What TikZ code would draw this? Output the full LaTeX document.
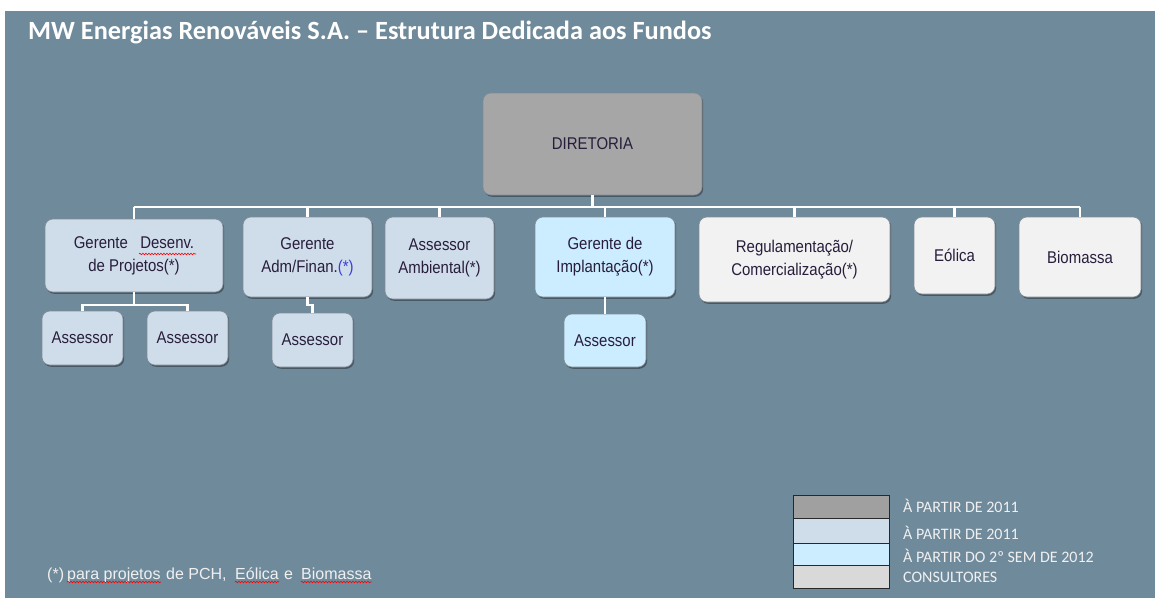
\documentclass[tikz,border=0pt]{standalone}
\usepackage{fontspec}
\setmainfont{Liberation Sans}
\newfontfamily\boxfont[FakeStretch=0.88]{Liberation Sans}
\newfontfamily\calib{Carlito}
\usetikzlibrary{shadows,decorations.pathmorphing}
\definecolor{bgslate}{RGB}{111,138,155}
\definecolor{dirgray}{RGB}{166,166,166}
\definecolor{gerblue}{RGB}{207,220,234}
\definecolor{impcyan}{RGB}{204,236,255}
\definecolor{conslt}{RGB}{242,242,242}
\definecolor{leggray}{RGB}{160,160,160}
\definecolor{legcons}{RGB}{217,217,217}
\definecolor{boxtext}{RGB}{40,30,60}
\definecolor{ast}{RGB}{60,60,220}
\definecolor{lighttext}{RGB}{240,240,240}
\begin{document}
\begin{tikzpicture}[x=1pt,y=-1pt,
  orgbox/.style={draw={rgb,255:red,130;green,140;blue,150}, line width=0.6pt, rounded corners=8pt,
    align=center, inner sep=2pt, text=boxtext,
    font=\boxfont\fontsize{17}{23}\selectfont,
    drop shadow={shadow xshift=1.2pt, shadow yshift=-1.8pt, fill=black, opacity=0.35}},
  conn/.style={draw=white, line width=2.2pt},
  legbox/.style={draw={rgb,255:red,40;green,40;blue,40}, line width=0.8pt, inner sep=0pt},
  legtext/.style={anchor=west, text=lighttext, font=\calib\fontsize{16}{18}\selectfont, inner sep=0pt},
  footword/.style={anchor=base west, inner sep=0pt, text=lighttext, font=\fontsize{16}{18}\selectfont},
  squig/.style={draw=red, line width=0.6pt, decorate, decoration={snake, segment length=3pt, amplitude=0.8pt}}
]
\useasboundingbox (0,0) rectangle (1155,598);
\fill[white] (0,0) rectangle (1155,598);
\fill[bgslate] (5,11) rectangle (1155,598);

% title
\node[anchor=west, text=white, inner sep=0pt, font=\calib\bfseries\fontsize{26.3}{30}\selectfont] (title) at (28,32) {MW Energias Renováveis S.A. – Estrutura Dedicada aos Fundos};

% boxes
\node[orgbox, fill=dirgray, minimum width=219, minimum height=102] (dir) at (592.5,144) {DIRETORIA};
\node[orgbox, fill=gerblue, minimum width=178, minimum height=73] (ger1) at (134,255.5) {Gerente\ \ \ Desenv.\\de Projetos(*)};
\node[orgbox, fill=gerblue, minimum width=129, minimum height=80] (adm) at (307.5,257) {Gerente\\Adm/Finan.\textcolor{ast}{(*)}};
\node[orgbox, fill=gerblue, minimum width=109, minimum height=82] (amb) at (439.5,258) {Assessor\\Ambiental(*)};
\node[orgbox, fill=impcyan, minimum width=140, minimum height=80] (imp) at (605,257) {Gerente de\\Implantação(*)};
\node[orgbox, fill=conslt, minimum width=191, minimum height=85] (reg) at (794.5,259.5) {Regulamentação/\\Comercialização(*)};
\node[orgbox, fill=conslt, minimum width=81, minimum height=77] (eol) at (954.5,255.5) {Eólica};
\node[orgbox, fill=conslt, minimum width=122, minimum height=80] (bio) at (1080,257) {Biomassa};

\node[orgbox, fill=gerblue, minimum width=81, minimum height=54] (as1) at (82.5,338) {Assessor};
\node[orgbox, fill=gerblue, minimum width=81, minimum height=54] (as2) at (187.5,338) {Assessor};
\node[orgbox, fill=gerblue, minimum width=81, minimum height=54] (as3) at (312.5,340) {Assessor};
\node[orgbox, fill=impcyan, minimum width=82, minimum height=53] (as4) at (605,340.5) {Assessor};

% connectors
\coordinate (busL) at (134,207);
\coordinate (busR) at (1080,207);
\draw[conn] (dir.south) -- (dir.south |- busL);
\draw[conn] (busL) -- (busR);
\foreach \b in {ger1,adm,amb,imp,reg,eol,bio}{
  \draw[conn] (\b.north |- busL) -- (\b.north);
}
\draw[conn] (ger1.south) -- ++(0,13) -| (as1.north);
\draw[conn] (ger1.south) -- ++(0,13) -| (as2.north);
\draw[conn] (adm.south) -- ++(0,8) -| (as3.north);
\draw[conn] (imp.south) -- (as4.north);

% spell-check squiggle in box
\draw[squig] (139,254) -- (196,254);

% footnote
\node[footword] (f1) at (47,579) {(*)};
\node[footword] (f2) at (67,579) {para projetos};
\node[footword] (f3) at (166,579) {de PCH,};
\node[footword] (f4) at (235,579) {Eólica};
\node[footword] (f5) at (284,579) {e};
\node[footword] (f6) at (301,579) {Biomassa};
\foreach \w in {f2,f4,f6}{
  \draw[squig] ([yshift=-3pt]\w.base west) -- ([yshift=-3pt]\w.base east);
}

% legend
\node[legbox, fill=leggray, minimum width=96, minimum height=23] (l1) at (841,506.5) {};
\node[legbox, fill=gerblue, minimum width=96, minimum height=25] (l2) at (841,530.5) {};
\node[legbox, fill=impcyan, minimum width=96, minimum height=22] (l3) at (841,554) {};
\node[legbox, fill=legcons, minimum width=96, minimum height=23] (l4) at (841,576.5) {};
\node[legtext] (t1) at (903,506) {À PARTIR DE 2011};
\node[legtext] (t2) at (903,533) {À PARTIR DE 2011};
\node[legtext] (t3) at (903,556) {À PARTIR DO 2º SEM DE 2012};
\node[legtext] (t4) at (903,577) {CONSULTORES};
\end{tikzpicture}
\end{document}
